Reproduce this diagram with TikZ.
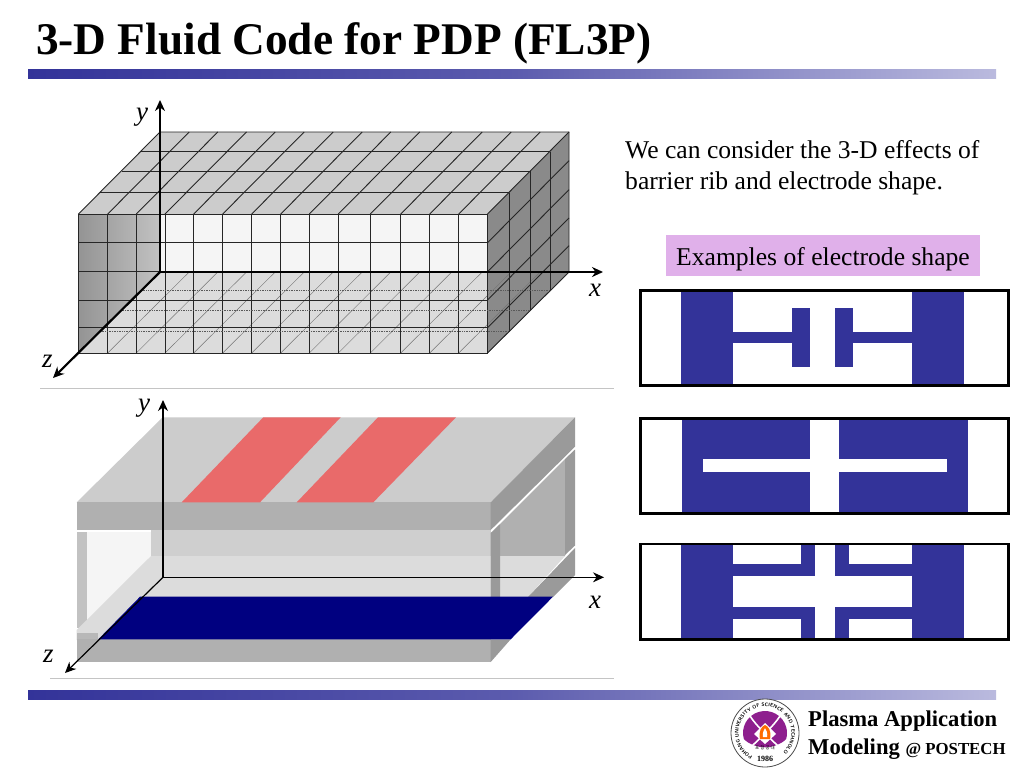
\documentclass[tikz,border=0pt]{standalone}
\usepackage{fontspec}
\setmainfont{Liberation Serif}
\newfontfamily\korean{Noto Sans CJK KR}
\usepackage{tikz}
\usetikzlibrary{arrows.meta,decorations.text}
\definecolor{barblue}{HTML}{333399}
\definecolor{barlight}{HTML}{BABADE}
\definecolor{ruleclr}{HTML}{C4C4C4}
\definecolor{platetop}{HTML}{CCCCCC}
\definecolor{platefront}{HTML}{B0B0B0}
\definecolor{plateside}{HTML}{9A9A9A}
\definecolor{floorclr}{HTML}{DCDCDC}
\definecolor{ribred}{HTML}{E96A6A}
\definecolor{elecnavy}{HTML}{000080}
\definecolor{shapeclr}{HTML}{E0B0EA}
\definecolor{logopurple}{HTML}{8E1F8E}
\tikzset{
  gridline/.style={draw=black!85,line width=0.9pt},
  floorline/.style={draw=black!55,line width=0.45pt},
  floordots/.style={draw=black!65,line width=0.7pt,densely dotted},
  heavyaxis/.style={line width=2.2pt,-{Stealth[length=11pt,width=10pt]}},
  thinaxis/.style={line width=1.2pt,-{Stealth[length=11pt,width=10pt]}},
  axislabel/.style={font=\fontsize{27}{27}\selectfont\itshape,inner sep=0pt},
  framebox/.style={draw=black,line width=2.6pt},
  elecfill/.style={fill=barblue},
  headbar/.style={left color=barblue,right color=barlight,middle color=barblue!70!barlight},
  bodytext/.style={font=\fontsize{25.6}{25.6}\selectfont,inner sep=0pt,anchor=base west}
}
\begin{document}
\begin{tikzpicture}[x=1pt,y=-1pt]
\useasboundingbox (0,0) rectangle (1024,768);
\fill[white] (0,0) rectangle (1024,768);
%Kopf und Fuss
\node[font=\fontsize{45.3}{46}\selectfont\bfseries,inner sep=0pt,anchor=base west] (title) at (36,55) {3-D Fluid Code for PDP (FL3P)};
\fill[headbar] (28,69) rectangle (996,78);
\fill[headbar] (28,690) rectangle (996,699);
\draw[ruleclr,line width=0.8pt] (40,388) -- (614,388);
\draw[ruleclr,line width=0.8pt] (50,678) -- (614,678);
%Gitter oben
\pgfmathsetmacro{\xF}{78.5}
\pgfmathsetmacro{\xE}{487.5}
\pgfmathsetmacro{\dz}{81.5}
\fill[platetop] (\xF,214) -- (\xF+\dz,132) -- (\xE+\dz,132) -- (\xE,214) -- cycle;
\fill[white!96!black] (160,214) rectangle (\xE,272);
\fill[floorclr] (160,272) -- (\xE+\dz,272) -- (\xE,353) -- (\xF,353) -- cycle;
\shade[left color=black!42,right color=black!24] (\xF,214) -- (160,214) -- (160,272) -- (\xF,353) -- cycle;
\fill[black!46] (\xE,214) -- (\xE+\dz,132) -- (\xE+\dz,272) -- (\xE,353) -- cycle;
\foreach \cx in {78.5,107.7,136.3,165,193.7,222.7,251.7,280.7,309.3,338.3,370.3,400.7,429.7,458.7,487.5}{
\draw[floorline] (\cx,353) -- ++(\dz,-81);
\draw[gridline] (\cx,214) -- ++(\dz,-82);
\draw[gridline] (\cx,214) -- (\cx,353);
}
\foreach \dd in {21.5,43,62.5}{
\draw[floordots] (\xF+\dd,353-\dd) -- (\xE+\dd,353-\dd);
\draw[gridline] (\xF+\dd,214-\dd) -- (\xE+\dd,214-\dd);
\draw[gridline] (\xE+\dd,214-\dd) -- (\xE+\dd,353-\dd);
}
\foreach \ry in {214,242.7,271.7,300,327.7,353}{
\draw[gridline] (\xF,\ry) -- (\xE,\ry);
}
\foreach \ry in {242.7,271.7,300,327.7}{
\draw[gridline] (\xE,\ry) -- ++(\dz,-82);
}
\draw[gridline] (\xF+\dz,132) -- (\xE+\dz,132) -- (\xE+\dz,272) -- (\xE,353);
%Achsen oben
\coordinate (originA) at (160,272);
\coordinate (yendA) at (160,100);
\coordinate (xendA) at (603,272);
\coordinate (zendA) at (53,378);
\draw[heavyaxis] (originA) -- (yendA);
\draw[heavyaxis] (originA) -- (xendA);
\draw[heavyaxis] (originA) -- (zendA);
\node[axislabel] (yA) at (142,117) {y};
\node[axislabel] (xA) at (595,290) {x};
\node[axislabel] (zA) at (47.5,361) {z};
%Zelle unten
\fill[white!96!black] (87,532) -- (151,532) -- (151,556) -- (87,622) -- cycle;
\fill[black!24] (76.7,532) rectangle (87,628);
\fill[platetop!95!white] (151,530) rectangle (490.7,556);
\fill[floorclr] (151,556) -- (490.7,556) -- (490.7,597) -- (140,597) -- (98,640) -- (76.7,640) -- (76.7,630) -- cycle;
\fill[platefront] (500,524) -- (565,459) -- (565,556) -- (500,556) -- cycle;
\fill[floorclr] (500,556) -- (565,556) -- (528,597) -- (500,597) -- cycle;
\fill[plateside] (490.7,533) -- (500,524) -- (500,597) -- (490.7,597) -- cycle;
\fill[plateside] (565,459) -- (575,449.5) -- (575,545.5) -- (565,555) -- cycle;
\fill[plateside] (528,597) -- (575,548) -- (575,575) -- (553,597) -- cycle;
\fill[black!28] (76.7,633) rectangle (98.3,640);
\fill[platefront] (76.7,639.3) rectangle (490.7,662);
\fill[plateside] (490.7,639.3) -- (510.7,639.3) -- (490.7,662) -- cycle;
\fill[elecnavy] (140,596.7) -- (553,596.7) -- (510.7,639.3) -- (98.3,639.3) -- cycle;
\fill[platetop] (76.7,502.3) -- (162.7,417.3) -- (575,417.3) -- (490.7,502.3) -- cycle;
\fill[platefront] (76.7,502.3) rectangle (490.7,530);
\fill[plateside] (490.7,502.3) -- (575,417.3) -- (575,446.7) -- (490.7,530) -- cycle;
\fill[ribred] (181.7,502.3) -- (263.3,417.3) -- (340.7,417.3) -- (260,502.3) -- cycle;
\fill[ribred] (296.7,502.3) -- (378,417.3) -- (456,417.3) -- (373.3,502.3) -- cycle;
%Achsen unten
\coordinate (originB) at (163,577.3);
\coordinate (yendB) at (163,400);
\coordinate (xendB) at (604,577.3);
\coordinate (zendB) at (65,673);
\draw[thinaxis] (originB) -- (yendB);
\draw[thinaxis] (originB) -- (xendB);
\draw[thinaxis] (originB) -- (zendB);
\node[axislabel] (yB) at (144,408) {y};
\node[axislabel] (xB) at (595,602) {x};
\node[axislabel] (zB) at (48.5,656.5) {z};
%Text rechts
\node[bodytext] (lineone) at (625,158) {We can consider the 3-D effects of};
\node[bodytext] (linetwo) at (625,189) {barrier rib and electrode shape.};
\fill[shapeclr] (666,235) rectangle (980,276);
\node[bodytext] (shapes) at (676,265) {Examples of electrode shape};
%Elektrode 1
\fill[elecfill] (681,290) rectangle (732.7,386);
\fill[elecfill] (912.3,290) rectangle (964,386);
\fill[elecfill] (732.7,332.3) rectangle (792.3,343.3);
\fill[elecfill] (853,332.3) rectangle (912.3,343.3);
\fill[elecfill] (792.3,308.3) rectangle (810,367.3);
\fill[elecfill] (835,308.3) rectangle (853,367.3);
\draw[framebox] (640.5,290.5) rectangle (1008.5,385.3);
%Elektrode 2
\fill[elecfill] (681.7,417.7) rectangle (968.3,514.3);
\fill[white] (702.7,459) rectangle (947.3,472.3);
\fill[white] (810.3,417.7) rectangle (839.3,514.3);
\draw[framebox] (640.5,418.3) rectangle (1008.5,513.7);
%Elektrode 3
\fill[elecfill] (681,543.3) rectangle (732.7,639.3);
\fill[elecfill] (912.3,543.3) rectangle (964,639.3);
\foreach \by in {564.3,607.3}{
\fill[elecfill] (732.7,\by) rectangle (814.7,\by+11.4);
\fill[elecfill] (835,\by) rectangle (912.3,\by+11.4);
}
\foreach \sx in {801,835}{
\fill[elecfill] (\sx,543.3) rectangle (\sx+14,575.7);
\fill[elecfill] (\sx,607.3) rectangle (\sx+14,639.3);
}
\draw[framebox] (640.5,544) rectangle (1008.5,639.5);
%Logo
\begin{scope}[shift={(765,733)},y=1pt]
\draw[black!70,line width=0.8pt,fill=white] (0,0) circle (34);
\fill[logopurple] (196:22) arc[start angle=196,end angle=-16,radius=22] .. controls (10,-17) and (-10,-17) .. cycle;
\draw[white,line width=1.6pt] (-15,17) .. controls (-8,6) and (6,-6) .. (14,-14);
\draw[white,line width=1.6pt] (15,17) .. controls (8,6) and (-6,-6) .. (-14,-14);
\fill[white] (0,10) -- (-11,-1) -- (0,-11) -- (11,-1) -- cycle;
\fill[orange!85!red] (-5,-6) .. controls (-7,2) and (-3,7) .. (0,8) .. controls (3,7) and (7,2) .. (5,-6) -- cycle;
\fill[white] (-2,-4) .. controls (-3,0) and (-1,3) .. (0,5) .. controls (1,3) and (3,0) .. (2,-4) -- cycle;
\path[decorate,decoration={text along path,text align=center,
  text={|\sffamily\bfseries\fontsize{5}{5}\selectfont|POHANG UNIVERSITY OF SCIENCE AND TECHNOLOGY}}]
  (225:26.5) arc[start angle=225,end angle=-45,radius=26.5];
\node[font=\korean\fontsize{4.5}{5}\selectfont,inner sep=0pt] (logokr) at (0,-14.5) {포 항 공 대};
\node[font=\fontsize{8}{8}\selectfont\bfseries,inner sep=0pt] (logoyear) at (0,-25.5) {1986};
\end{scope}
\node[font=\fontsize{22.6}{22.6}\selectfont\bfseries,inner sep=0pt,anchor=base west] (labname) at (808,726) {Plasma Application};
\node[font=\fontsize{22.6}{22.6}\selectfont\bfseries,inner sep=0pt,anchor=base west] (labsub) at (808,754) {Modeling \fontsize{16.8}{16.8}\selectfont @ POSTECH};
\end{tikzpicture}
\end{document}
